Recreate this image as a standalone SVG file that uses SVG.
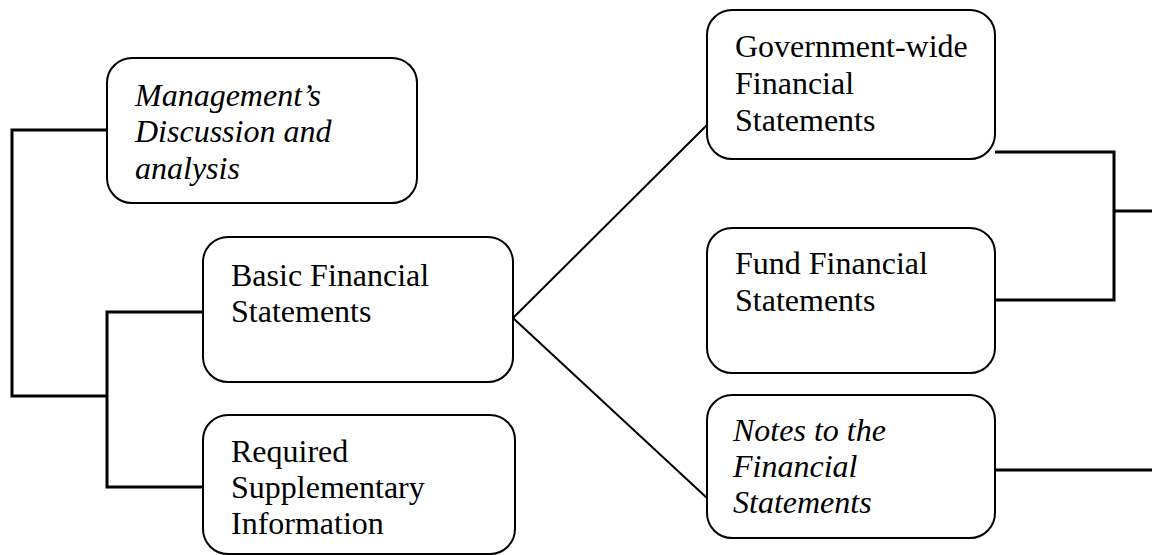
<svg xmlns="http://www.w3.org/2000/svg" width="1152" height="555" viewBox="0 0 1152 555">
  <style>
    .box { fill: #ffffff; stroke: #000000; stroke-width: 2; }
    .lbl { font-family: "Liberation Serif", "Times New Roman", serif; font-size: 32px; fill: #000000; }
    .it { font-style: italic; }
    .bracket { fill: none; stroke: #000000; stroke-width: 3; }
    .diag { fill: none; stroke: #000000; stroke-width: 2; }
  </style>
  <rect width="1152" height="555" fill="#ffffff"/>

  <!-- connectors -->
  <g id="connectors">
    <polyline class="bracket" points="107,130 12,130 12,396 107,396"/>
    <polyline class="bracket" points="203,312 107,312 107,487 203,487"/>
    <polyline class="bracket" points="995,152 1114,152 1114,300 995,300"/>
    <line class="bracket" x1="1114" y1="211" x2="1152" y2="211"/>
    <line class="bracket" x1="995" y1="470" x2="1152" y2="470"/>
    <line class="diag" x1="513" y1="318" x2="707" y2="125"/>
    <line class="diag" x1="513" y1="318" x2="707" y2="498"/>
  </g>

  <!-- nodes -->
  <g id="mdna">
    <rect class="box" x="107" y="58" width="310" height="145" rx="25"/>
    <text class="lbl it"><tspan x="135" y="106">Management’s</tspan><tspan x="135" y="142">Discussion and</tspan><tspan x="135" y="179">analysis</tspan></text>
  </g>
  <g id="basic">
    <rect class="box" x="203" y="237" width="310" height="145" rx="25"/>
    <text class="lbl"><tspan x="231" y="286">Basic Financial</tspan><tspan x="231" y="322">Statements</tspan></text>
  </g>
  <g id="rsi">
    <rect class="box" x="203" y="415" width="312" height="139" rx="25"/>
    <text class="lbl"><tspan x="231" y="462">Required</tspan><tspan x="231" y="498">Supplementary</tspan><tspan x="231" y="534">Information</tspan></text>
  </g>
  <g id="govwide">
    <rect class="box" x="707" y="10" width="288" height="149" rx="25"/>
    <text class="lbl"><tspan x="735" y="57">Government-wide</tspan><tspan x="735" y="94">Financial</tspan><tspan x="735" y="131">Statements</tspan></text>
  </g>
  <g id="fund">
    <rect class="box" x="707" y="228" width="288" height="145" rx="25"/>
    <text class="lbl"><tspan x="735" y="274">Fund Financial</tspan><tspan x="735" y="311">Statements</tspan></text>
  </g>
  <g id="notes">
    <rect class="box" x="707" y="395" width="288" height="143" rx="25"/>
    <text class="lbl it"><tspan x="733" y="441">Notes to the</tspan><tspan x="733" y="477">Financial</tspan><tspan x="733" y="513">Statements</tspan></text>
  </g>
</svg>
